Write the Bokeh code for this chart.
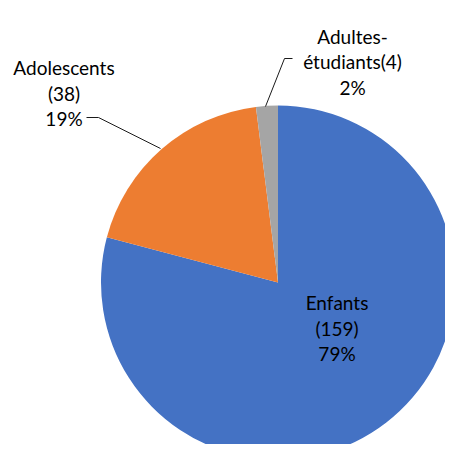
import math
from bokeh.plotting import figure
from bokeh.models import ColumnDataSource
from bokeh.core.properties import value
from bokeh.embed import file_html
from bokeh.resources import INLINE

# ---- data ----
categories = ["Enfants", "Adolescents", "Adultes-étudiants"]
counts = [159, 38, 4]
colors = ["#4472C4", "#ED7D31", "#A5A5A5"]

# ---- layout (screen-pixel based coordinates; y measured upward from 452) ----
W, H = 445, 444
SCREEN_H = 452
def sy(y):
    return SCREEN_H - y

cx, cy, r = 277.5, sy(282), 177
label_anchor = {  # (center x, first baseline screen y)
    "Enfants": (336.5, 302),
    "Adolescents": (63.5, 67),
    "Adultes-étudiants": (352, 35.5),
}
line_h = 25.7
leaders = {
    "Adolescents": ([86, 98, 160], [117, 117, 148]),
    "Adultes-étudiants": ([292, 284, 265], [58, 58, 106]),
}

total = sum(counts)
starts, ends = [], []
cum = 0
for c in counts:
    starts.append(math.pi / 2 - 2 * math.pi * cum / total)
    cum += c
    ends.append(math.pi / 2 - 2 * math.pi * cum / total)

p = figure(width=W, height=H, x_range=(0, W), y_range=(SCREEN_H - H, SCREEN_H),
           output_backend="svg", toolbar_location=None, min_border=0)
p.axis.visible = False
p.grid.visible = False
p.outline_line_color = None
p.background_fill_color = "white"
p.border_fill_color = "white"

src = ColumnDataSource(dict(x=[cx] * len(counts), y=[cy] * len(counts),
                            start=starts, end=ends, color=colors))
p.wedge(x="x", y="y", radius=r, start_angle="start", end_angle="end",
        direction="clock", fill_color="color", line_color=None, source=src)

# leader lines
for name, (xs, ys) in leaders.items():
    p.line(xs, [sy(v) for v in ys], line_color="#1a1a1a", line_width=1)

# labels
tx, ty, tt = [], [], []
for name, c in zip(categories, counts):
    pct = round(100 * c / total)
    if "-" in name:
        a, b = name.split("-", 1)
        lines = [a + "-", f"{b}({c})"]
    else:
        lines = [name, f"({c})"]
    lines.append(f"{pct}%")
    x0, y0 = label_anchor[name]
    for i, ln in enumerate(lines):
        tx.append(x0)
        ty.append(sy(y0 + i * line_h))
        tt.append(ln)

p.text(x=tx, y=ty, text=tt, text_font=value("Lato"), text_font_size="19px",
       text_align="center", text_baseline="alphabetic", text_color="#000000")

open("out.html", "w").write(file_html(p, INLINE))
